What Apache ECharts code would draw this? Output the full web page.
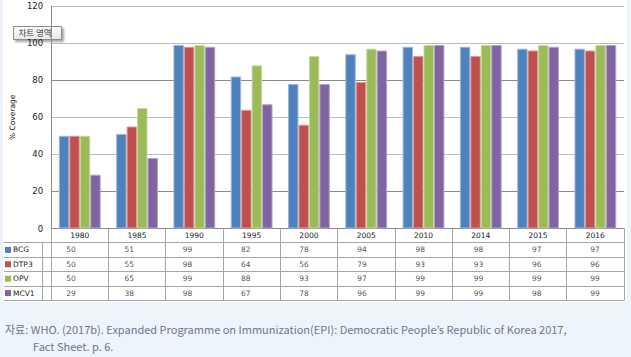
<!DOCTYPE html>
<html><head><meta charset="utf-8">
<script src="https://cdn.jsdelivr.net/npm/echarts@6/dist/echarts.min.js"></script>
<style>
html,body{margin:0;padding:0;background:#EDF4FB;}
#panel{position:absolute;left:3px;top:0;width:624px;height:302px;background:#fff;}
#chart{position:absolute;left:0;top:0;width:631px;height:357px;}
</style></head>
<body>
<div id="panel"></div>
<div id="chart"></div>
<script>
const years = ['1980','1985','1990','1995','2000','2005','2010','2014','2015','2016'];
const seriesNames = ['BCG','DTP3','OPV','MCV1'];
const bcg  = [50,51,99,82,78,94,98,98,97,97];
const dtp3 = [50,55,98,64,56,79,93,93,96,96];
const opv  = [50,65,99,88,93,97,99,99,99,99];
const mcv1 = [29,38,98,67,78,96,99,99,98,99];
const yMin = 0, yMax = 120, yStep = 20;
const colors = ['#4F81BD','#C0504D','#9BBB59','#8064A2'];
const borders = ['#9db8dc','#dc9a98','#c4d9a0','#b3a3cc'];
const allSeries = [bcg, dtp3, opv, mcv1];
const FONT = 'DejaVu Sans';

const chart = echarts.init(document.getElementById('chart'), null, {renderer:'svg'});

const tableData = [];
allSeries.forEach((arr, s) => arr.forEach((v, i) => tableData.push([i, s, v])));

const rich = {};
colors.forEach((c, i) => { rich['b'+i] = {width:6, height:6, backgroundColor:c}; });
rich.t = {fontSize:7.5, fontFamily:FONT, color:'#222', padding:[0,0,0,2]};

const option = {
  animation:false,
  backgroundColor:'transparent',
  textStyle:{fontFamily:FONT},
  grid:[
    {left:42, top:6, width:582, height:222.5, containLabel:false},
    {left:42, top:242.7, width:582, height:57.6, containLabel:false}
  ],
  xAxis:[
    {type:'category', gridIndex:0, data:years, boundaryGap:true,
     axisLine:{show:true, lineStyle:{color:'#8a8a8a', width:1}},
     axisTick:{show:true, interval:0, length:72, lineStyle:{color:'#a6a6a6'}},
     axisLabel:{interval:0, fontSize:7.5, fontFamily:FONT, color:'#222', margin:3},
     splitLine:{show:false}},
    {type:'category', gridIndex:1, data:years, boundaryGap:true,
     axisLine:{show:true, lineStyle:{color:'#a6a6a6'}}, axisTick:{show:false},
     axisLabel:{show:false}, splitLine:{show:false}}
  ],
  yAxis:[
    {type:'value', gridIndex:0, min:yMin, max:yMax, interval:yStep,
     axisLine:{show:true, lineStyle:{color:'#8a8a8a'}}, axisTick:{show:false},
     axisLabel:{fontSize:8.5, fontFamily:FONT, color:'#222', margin:8},
     splitLine:{show:true, lineStyle:{color:['#888','#8a8a8a','#bdbdbd','#bdbdbd','#8a8a8a','#bdbdbd','#bdbdbd'], width:1}},
     name:'% Coverage', nameLocation:'middle', nameGap:30, nameRotate:90,
     nameTextStyle:{fontSize:7.5, fontFamily:FONT, color:'#111'}},
    {type:'category', gridIndex:1, data:seriesNames, inverse:true, boundaryGap:true,
     axisLine:{show:true, lineStyle:{color:'#a6a6a6'}},
     axisTick:{show:true, interval:0, length:38, lineStyle:{color:'#a6a6a6'}},
     axisLabel:{interval:0, margin:37, align:'left',
       formatter:(v, idx) => '{b'+idx+'| }{t|'+v+'}', rich:rich},
     splitLine:{show:true, interval:0, lineStyle:{color:'#a6a6a6'}}},
    {type:'category', gridIndex:1, data:seriesNames, inverse:true, offset:38,
     axisLine:{show:true, lineStyle:{color:'#a6a6a6'}}, axisTick:{show:false},
     axisLabel:{show:false}, splitLine:{show:false}}
  ],
  series: allSeries.map((arr, s) => ({
    type:'bar', name:seriesNames[s], xAxisIndex:0, yAxisIndex:0, data:arr,
    barGap:'0%', barCategoryGap:'27%',
    itemStyle:{color:colors[s], borderColor:borders[s], borderWidth:1}
  })).concat([{
    type:'scatter', xAxisIndex:1, yAxisIndex:1, data:tableData, symbolSize:1,
    itemStyle:{color:'rgba(0,0,0,0)'}, silent:true,
    label:{show:true, position:'inside', formatter:p => String(p.value[2]),
      fontSize:7.5, fontFamily:FONT, color:'#222'}
  }]),
  graphic:[
    {type:'group', left:13, top:26, children:[
      {type:'rect', shape:{x:0,y:0,width:48,height:13},
       style:{fill:new echarts.graphic.LinearGradient(0,0,0,1,[{offset:0,color:'#ffffff'},{offset:1,color:'#e6e6e6'}]),
              stroke:'#8c8c8c', lineWidth:1, shadowColor:'rgba(0,0,0,0.35)', shadowOffsetX:2, shadowOffsetY:2, shadowBlur:2}},
      {type:'text', x:5, y:1.5, style:{text:'차트 영역', fontSize:8.5, fontFamily:'Noto Sans CJK KR', fill:'#333'}}
    ]},
    {type:'text', left:5, top:323, style:{text:'자료: WHO. (2017b). Expanded Programme on Immunization(EPI): Democratic People\u2019s Republic of Korea 2017,',
      fontSize:11, fontFamily:'Noto Sans CJK KR', fill:'#757390'}},
    {type:'text', left:33, top:340, style:{text:'Fact Sheet. p. 6.',
      fontSize:11, fontFamily:'Noto Sans CJK KR', fill:'#757390'}}
  ]
};
chart.setOption(option);
</script>
</body></html>
